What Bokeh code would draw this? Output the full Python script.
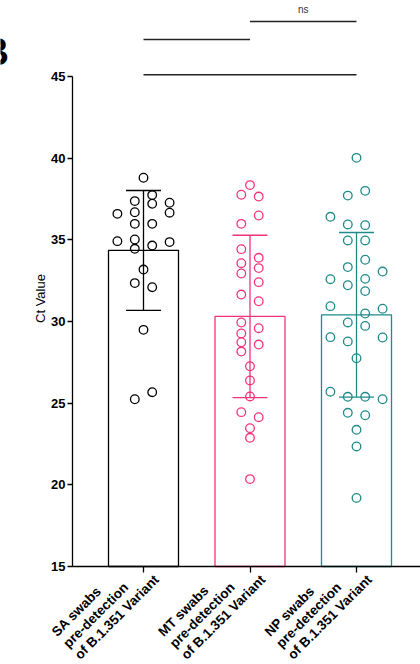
import math
from bokeh.plotting import figure
from bokeh.models import Range1d, FixedTicker, Label
from bokeh.embed import file_html
from bokeh.resources import INLINE

# ---------------- data ----------------
categories = ["SA swabs\npre-detection\nof B.1.351 Variant",
              "MT swabs\npre-detection\nof B.1.351 Variant",
              "NP swabs\npre-detection\nof B.1.351 Variant"]
group_colors = ["#000000", "#F2337B", "#1E8A8A"]
group_means = [34.35, 30.31, 30.41]
group_sds = [3.67, 4.97, 5.04]

sa_values = [38.80, 37.74, 37.37, 37.21, 37.27, 36.66, 36.59, 36.69, 35.98, 35.98, 35.02,
             34.92, 34.86, 34.65, 34.45, 33.18, 32.35, 32.10, 29.49, 25.67, 25.24]
sa_slots = [0, 1, -1, 1, 3, 3, -3, -1, -1, 1, -1, -3, 3, 1, -1, 0, -1, 1, 0, 1, -1]

mt_values = [38.35, 37.76, 37.65, 36.49, 35.98, 34.43, 33.90, 33.57, 33.27, 32.94, 32.41,
             31.65, 31.24, 29.94, 29.59, 29.27, 28.73, 28.59, 28.16, 27.26, 26.39, 25.41,
             24.45, 24.14, 23.47, 22.88, 20.35]
mt_slots = [0, -1, 1, 1, -1, -1, 1, -1, 1, -1, 1, -1, 1, -1, 1, -1, -1, 1, -1, 0, 0, 0,
            -1, 1, 0, 0, 0]

np_values = [40.02, 38.00, 37.71, 36.41, 35.94, 35.90, 34.96, 34.96, 33.78, 33.33, 33.06,
             32.59, 32.61, 32.22, 31.86, 30.94, 30.78, 30.49, 29.94, 29.73, 29.04, 28.78,
             29.02, 27.75, 25.70, 25.39, 25.39, 25.24, 24.41, 24.26, 23.37, 22.35, 19.20]
np_slots = [0, 1, -1, -3, -1, 1, -1, 1, 1, -1, 3, -3, 1, -1, 1, -3, 3, 1, -1, 1, -3, -1,
            3, 0, -3, -1, 1, 3, -1, 1, 0, 0, 0]

y_ticks = [15, 20, 25, 30, 35, 40, 45]
y_title = "Ct Value"
comparisons = [(0, 1), (1, 2), (0, 2)]
comparison_levels = [47.27, 48.37, 45.10]
comparison_labels = ["", "ns", ""]
panel_letter = "B"

# ---------------- layout constants ----------------
FONT = "Liberation Sans"
W, H = 420, 664
AXIS_X_PX = 72              # page x of the y axis line
AXIS_Y_PX = 566             # page y of the x axis line
PX_PER_Y = 490 / 30
PX_PER_X = 106.5
Y_AXIS_MIN, Y_AXIS_MAX = 15, 45
YB = Y_AXIS_MIN - (H - AXIS_Y_PX) / PX_PER_Y
YT = Y_AXIS_MIN + AXIS_Y_PX / PX_PER_Y
X_AXIS_AT = 1 - 71 / PX_PER_X
XL = X_AXIS_AT - AXIS_X_PX / PX_PER_X
XR = X_AXIS_AT + (W - AXIS_X_PX) / PX_PER_X
SLOT = 8.7 / PX_PER_X
BAR_W = 70 / PX_PER_X
CAP_W = 35 / PX_PER_X
LABEL_DX, LABEL_DY = -78, 79   # start of the middle label line, relative to the tick
LINE_STEP = 11.5               # per-axis shift between rotated label lines

p = figure(width=W, height=H, x_range=Range1d(XL, XR), y_range=Range1d(YB, YT),
           output_backend="svg", toolbar_location=None,
           min_border_left=0, min_border_right=0, min_border_top=0, min_border_bottom=0)
p.outline_line_color = None
p.xgrid.visible = False
p.ygrid.visible = False
p.background_fill_color = "white"

xs = [1, 2, 3]

# bars
p.vbar(x=xs, width=BAR_W, top=group_means, bottom=Y_AXIS_MIN, fill_alpha=0,
       line_color=group_colors, line_width=1.3)

# points
for i, (vals, slots) in enumerate([(sa_values, sa_slots), (mt_values, mt_slots),
                                   (np_values, np_slots)]):
    px = [xs[i] + s * SLOT for s in slots]
    p.scatter(px, vals, marker="circle", size=8.6, fill_alpha=0,
              line_color=group_colors[i], line_width=1.3)

# error bars (mean +/- SD)
for i in range(3):
    lo = group_means[i] - group_sds[i]
    hi = group_means[i] + group_sds[i]
    c = group_colors[i]
    p.segment(x0=[xs[i]], y0=[lo], x1=[xs[i]], y1=[hi], line_color=c, line_width=1.3)
    p.segment(x0=[xs[i] - CAP_W / 2] * 2, y0=[lo, hi], x1=[xs[i] + CAP_W / 2] * 2,
              y1=[lo, hi], line_color=c, line_width=1.3)

# significance lines
for (a, b), lvl, lab in zip(comparisons, comparison_levels, comparison_labels):
    p.segment(x0=[xs[a]], y0=[lvl], x1=[xs[b]], y1=[lvl], line_color="#222222",
              line_width=1.5)
    if lab:
        p.add_layout(Label(x=(xs[a] + xs[b]) / 2, y=lvl + 12 / PX_PER_Y, text=lab,
                           text_align="center", text_baseline="alphabetic",
                           text_font=FONT, text_font_size="10px", text_color="#333333"))

# axes, placed at fixed data locations inside the full-canvas frame
ya = p.yaxis[0]
ya.fixed_location = X_AXIS_AT
ya.ticker = FixedTicker(ticks=y_ticks)
ya.bounds = (Y_AXIS_MIN, Y_AXIS_MAX)
ya.minor_tick_line_color = None
ya.major_tick_in = 0
ya.major_tick_out = 5
ya.axis_line_width = 1.3
ya.major_tick_line_width = 1.3
ya.major_label_standoff = 2
ya.major_label_text_font = FONT
ya.major_label_text_font_style = "bold"
ya.major_label_text_font_size = "13px"
ya.major_label_text_color = "black"

# y axis title, placed where the source figure has it (above the axis centre)
p.add_layout(Label(x=X_AXIS_AT - (AXIS_X_PX - 40) / PX_PER_X,
                   y=Y_AXIS_MIN + (AXIS_Y_PX - 298) / PX_PER_Y,
                   text=y_title, angle=math.pi / 2, text_align="center",
                   text_baseline="middle", text_font=FONT, text_font_size="13px",
                   text_color="black"))

xa = p.xaxis[0]
xa.fixed_location = Y_AXIS_MIN
xa.ticker = FixedTicker(ticks=xs)
xa.bounds = (X_AXIS_AT, XR)
xa.minor_tick_line_color = None
xa.major_tick_in = 0
xa.major_tick_out = 6
xa.axis_line_width = 1.3
xa.major_tick_line_width = 1.3
xa.major_label_overrides = {1: "", 2: "", 3: ""}

# rotated category labels, one left-aligned line at a time
for i, cat in enumerate(categories):
    lines = cat.split("\n")
    for k, line in enumerate(lines):
        shift = (k - (len(lines) - 1) / 2) * LINE_STEP
        p.add_layout(Label(x=xs[i], y=Y_AXIS_MIN - (LABEL_DY + shift) / PX_PER_Y,
                           x_offset=LABEL_DX + shift, text=line,
                           angle=math.pi / 4, text_align="left", text_baseline="middle",
                           text_font=FONT, text_font_style="bold",
                           text_font_size="13.5px", text_color="black"))

# panel letter (partly outside the page, as in the source figure)
p.add_layout(Label(x=X_AXIS_AT - (AXIS_X_PX + 19) / PX_PER_X,
                   y=Y_AXIS_MIN + (AXIS_Y_PX - 51) / PX_PER_Y,
                   text=panel_letter, text_align="left", text_baseline="alphabetic",
                   text_font=FONT, text_font_style="bold", text_font_size="38px",
                   text_color="black"))

open("out.html", "w").write(file_html(p, INLINE))
